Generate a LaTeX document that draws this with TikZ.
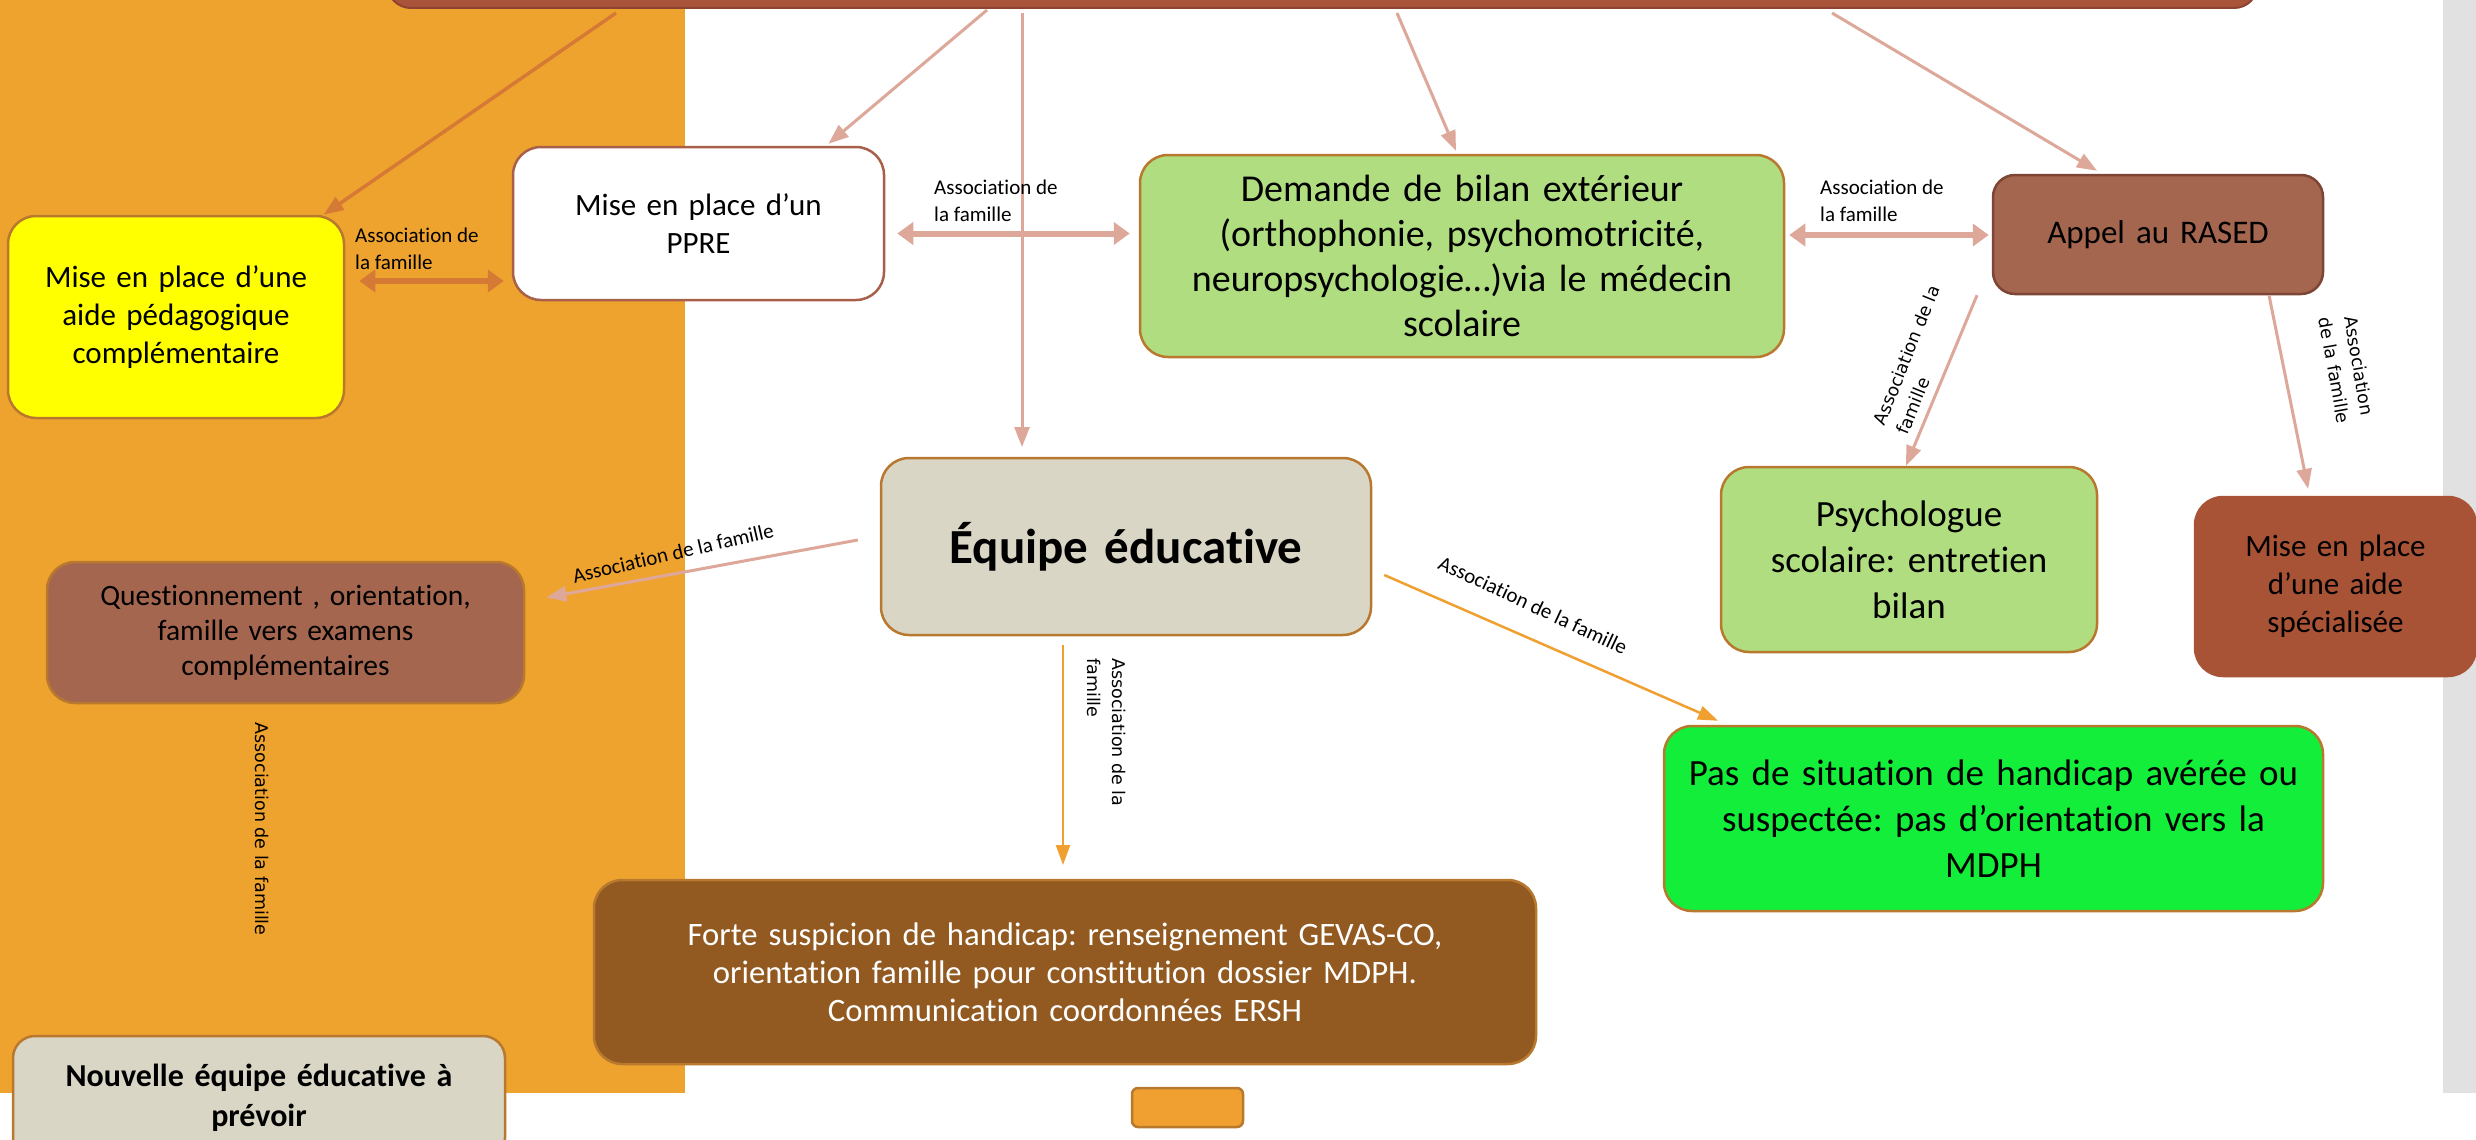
\documentclass[tikz,border=0pt]{standalone}
\usepackage{fontspec}
\setmainfont{Carlito}[Ligatures={NoCommon,NoContextual}]
\newfontfamily\verd{DejaVu Sans}
\usetikzlibrary{arrows.meta}
\frenchspacing
\definecolor{panel}{HTML}{EFA32F}
\definecolor{strip}{HTML}{E1E1E1}
\definecolor{bar}{HTML}{A9533A}
\definecolor{barline}{HTML}{8E4330}
\definecolor{pinkln}{HTML}{DDA899}
\definecolor{darkor}{HTML}{D57A34}
\definecolor{orln}{HTML}{F0A030}
\definecolor{copper}{HTML}{B8782E}
\definecolor{yel}{HTML}{FFFF00}
\definecolor{lgreen}{HTML}{B0DD80}
\definecolor{bgreen}{HTML}{12EE3A}
\definecolor{rasedc}{HTML}{A5664F}
\definecolor{rasedb}{HTML}{7D4535}
\definecolor{rust}{HTML}{A85236}
\definecolor{beige}{HTML}{D9D6C6}
\definecolor{brownc}{HTML}{925A21}
\definecolor{pppreb}{HTML}{A8604A}
\tikzset{
  box/.style={rounded corners=28pt, draw=copper, line width=2.5pt, align=center, inner sep=0pt},
  pinkarr/.style={draw=pinkln, line width=3pt, -{Triangle[length=20pt,width=15pt]}},
  orarr/.style={draw=orln, line width=2.5pt, -{Triangle[length=20pt,width=14pt]}},
  dblarr/.style={line width=6pt, {Triangle[length=16pt,width=22pt]}-{Triangle[length=16pt,width=22pt]}},
  lblc/.style={font=\fontsize{21}{27}\selectfont, align=left, inner sep=0pt},
  lblv/.style={font=\verd\fontsize{17.5}{25}\selectfont, inner sep=0pt},
}
\begin{document}
\begin{tikzpicture}[x=1pt,y=-1pt]
\useasboundingbox (0,0) rectangle (2476,1140);
\clip (0,0) rectangle (2476,1140);
\fill[white] (0,0) rectangle (2476,1140);
\fill[panel] (0,0) rectangle (685,1093);
\fill[strip] (2443,0) rectangle (2476,1093);
% top bar
\node[rounded corners=24pt, fill=bar, draw=barline, line width=2pt, minimum width=1871pt, minimum height=80pt, inner sep=0pt] (top) at (1322.5,-32) {};
% nodes
\node[box, fill=yel, minimum width=336pt, minimum height=202pt, text width=310pt, font=\fontsize{31}{38}\selectfont] (aide) at (176,317) {Mise en place d’une\\aide pédagogique\\complémentaire};
\node[box, draw=pppreb, fill=white, minimum width=371pt, minimum height=153pt, text width=340pt, font=\fontsize{31}{38}\selectfont] (ppre) at (698.5,223.5) {Mise en place d’un\\PPRE};
\node[box, fill=lgreen, minimum width=644pt, minimum height=202pt, text width=620pt, font=\fontsize{38}{45}\selectfont] (dem) at (1462,256) {Demande de bilan extérieur\\(orthophonie, psychomotricité,\\neuropsychologie…)via le médecin\\scolaire};
\node[box, draw=rasedb, fill=rasedc, rounded corners=22pt, minimum width=330pt, minimum height=119pt, text width=310pt, font=\fontsize{33}{40}\selectfont] (rased) at (2158,234.5) {Appel au RASED};
\node[box, fill=beige, minimum width=490pt, minimum height=177pt, text width=470pt, font=\fontsize{49}{58}\selectfont\bfseries] (equipe) at (1126,546.5) {Équipe éducative};
\node[box, fill=lgreen, minimum width=376pt, minimum height=185pt, text width=350pt, font=\fontsize{37}{46}\selectfont] (psy) at (1909,559.5) {Psychologue\\scolaire: entretien\\bilan};
\node[box, draw=rust, fill=rust, minimum width=281pt, minimum height=179pt, text width=260pt, font=\fontsize{31}{38}\selectfont] (spe) at (2335.5,586.5) {Mise en place\\d’une aide\\spécialisée};
\node[box, fill=rasedc, minimum width=477pt, minimum height=141pt, text width=460pt, font=\fontsize{29.5}{35}\selectfont] (ques) at (285.5,632.5) {Questionnement , orientation,\\famille vers examens\\complémentaires};
\node[box, fill=bgreen, minimum width=659pt, minimum height=185pt, text width=640pt, font=\fontsize{37}{46}\selectfont] (pas) at (1993.5,818.5) {Pas de situation de handicap avérée ou\\suspectée: pas d’orientation vers la\\MDPH};
\node[box, fill=brownc, text=white, minimum width=942pt, minimum height=184pt, text width=920pt, font=\fontsize{32.7}{38}\selectfont] (forte) at (1065,972) {Forte suspicion de handicap: renseignement GEVAS-CO,\\orientation famille pour constitution dossier MDPH.\\Communication coordonnées ERSH};
\node[box, fill=beige, rounded corners=22pt, minimum width=492pt, minimum height=124pt, text width=470pt, font=\fontsize{32}{39.5}\selectfont\bfseries] (nouv) at (259,1098) {Nouvelle équipe éducative à\\prévoir};
\node[box, fill=orln, draw=copper, rounded corners=6pt, minimum width=111pt, minimum height=39pt] (small) at (1187.5,1107.5) {};
% start coordinates on the bar
\coordinate (s1) at (616,13);
\coordinate (s2) at (987,10);
\coordinate (s3) at (1022,13);
\coordinate (s4) at (1397,13);
\coordinate (s5) at (1832,13);
\coordinate (e3) at (1022,447);
\coordinate (e13) at (1063,865);
% arrows from the bar
\draw[pinkarr, draw=darkor, -{Triangle[length=20pt,width=15pt]}, line width=3.5pt] (s1) -- (aide);
\draw[pinkarr] (s2) -- ([xshift=130pt,yshift=2pt]ppre.north);
\draw[pinkarr] (s3) -- (e3);
\draw[pinkarr] (s4) -- ([xshift=-6pt,yshift=3pt]dem.north);
\draw[pinkarr] (s5) -- ([xshift=-61pt,yshift=3pt]rased.north);
% double arrows
\draw[dblarr, draw=darkor, shorten <=14pt, shorten >=8pt] ([yshift=36pt]aide.east) -- ([yshift=36pt]aide.east -| ppre.west);
\draw[dblarr, draw=pinkln, shorten <=12pt, shorten >=9pt] ([yshift=-10pt]ppre.east) -- ([yshift=-10pt]ppre.east -| dem.west);
\draw[dblarr, draw=pinkln, shorten <=4pt, shorten >=3pt] ([yshift=21pt]dem.east) -- ([yshift=21pt]dem.east -| rased.west);
% from RASED
\draw[pinkarr] ([xshift=-181pt]rased.south) -- ([xshift=-3pt]psy.north);
\draw[pinkarr, shorten >=7pt] ([xshift=111pt]rased.south) -- ([xshift=-26pt]spe.north);
% from Equipe
\draw[pinkarr] ([xshift=-22pt,yshift=6.5pt]equipe.west) -- ([xshift=21pt,yshift=35pt]ques.east);
\draw[orarr] ([xshift=12pt,yshift=-28.5pt]equipe.east) -- ([xshift=-275.5pt,yshift=4pt]pas.north);
\draw[orarr] ([xshift=-63pt,yshift=-9pt]equipe.south) -- (e13);
% labels
\node[lblc, anchor=north west] (l1) at (355,228) {Association de\\la famille};
\node[lblc, anchor=north west] (l2) at (934,180) {Association de\\la famille};
\node[lblc, anchor=north west] (l3) at (1820,180) {Association de\\la famille};
\node[lblc, rotate=13] (l4) at (673,553) {Association de la famille};
\node[lblc, rotate=-25] (l5) at (1533,605) {Association de la famille};
\node[lblv, rotate=-90] (l6) at (262,829) {Association de la famille};
\node[lblv, rotate=-90, anchor=north west, align=left] (l7) at (1126,658) {Association de la\\famille};
\node[lblv, rotate=68, align=left] (l8) at (1918,360) {Association de la\\famille};
\node[lblv, rotate=-80, align=center] (l9) at (2347,368) {Association\\de la famille};
\end{tikzpicture}
\end{document}
